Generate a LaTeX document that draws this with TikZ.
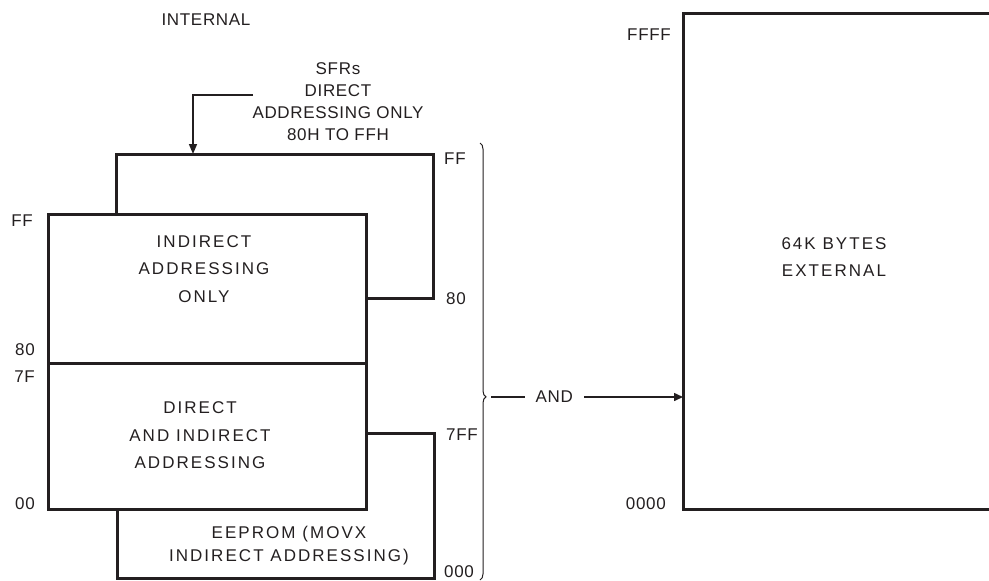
\documentclass[tikz,border=0pt]{standalone}
\usepackage{fontspec}
\setmainfont{Liberation Sans}[LetterSpace=4]
\newfontfamily\boxfont{Liberation Sans}[LetterSpace=12]
\usetikzlibrary{arrows.meta,decorations.pathreplacing}
\definecolor{ink}{HTML}{231F20}
\begin{document}
\begin{tikzpicture}[x=1pt,y=-1pt,
  every node/.style={font=\fontsize{17}{22}\selectfont, text=ink, inner sep=0pt},
  thick box/.style={draw=ink, line width=3pt, line join=miter},
  thin line/.style={draw=ink, line width=1.5pt},
  boxtext/.style={align=center, font=\boxfont\fontsize{17}{27.5}\selectfont},
  lbl/.style={}]
\useasboundingbox (0,0) rectangle (989,581);
% coordinates
\coordinate (mTL) at (48,214);
\coordinate (mTR) at (366,214);
\coordinate (mBL) at (48,509);
\coordinate (mBR) at (366,509);
\coordinate (dL) at (48,363);
\coordinate (dR) at (366,363);
\coordinate (sA) at (116,214);
\coordinate (sB) at (116,154);
\coordinate (sC) at (433,154);
\coordinate (sD) at (433,298);
\coordinate (sE) at (366,298);
\coordinate (eA) at (117,509);
\coordinate (eB) at (117,578);
\coordinate (eC) at (434,578);
\coordinate (eD) at (434,433);
\coordinate (eE) at (366,433);
\coordinate (xTR) at (995,13);
\coordinate (xTL) at (683,13);
\coordinate (xBL) at (683,509);
\coordinate (xBR) at (995,509);
\coordinate (xIn) at (683,397);
\coordinate (brT) at (480,143);
\coordinate (brB) at (480,580);
\coordinate (brTip) at (491,397);
\coordinate (sfrStart) at (253,95);
\coordinate (sfrCorner) at (193,95);
\coordinate (sfrEnd) at (193,154);
% boxes
\draw[thick box] (sA) -- (sB) -- (sC) -- (sD) -- (sE);
\draw[thick box] (eA) -- (eB) -- (eC) -- (eD) -- (eE);
\draw[thick box] (mTL) rectangle (mBR);
\draw[thick box] (dL) -- (dR);
\draw[thick box] (xTR) -- (xTL) -- (xBL) -- (xBR);
% brace
\draw[draw=ink, line width=1pt, decorate, decoration={brace, amplitude=6pt, aspect=0.581}] (brT) -- (brB);
% AND arrow
\draw[thin line, -{Triangle[length=9pt,width=8pt]}] (brTip) -- node[fill=white, inner xsep=11pt, inner ysep=3pt, pos=0.33] (and) {AND} (xIn);
% SFR arrow
\draw[thin line, -{Triangle[length=10pt,width=8pt]}] (sfrStart) -- (sfrCorner) -- (sfrEnd);
% texts
\node (internal) at (206,20) {INTERNAL};
\node[align=center] (sfr) at (338,102) {SFRs\\DIRECT\\ADDRESSING ONLY\\80H TO FFH};
\node[boxtext] (ind) at (204,269) {INDIRECT\\ADDRESSING\\ONLY};
\node[boxtext] (dir) at (200,435.5) {DIRECT\\AND INDIRECT\\ADDRESSING};
\node[boxtext, font=\boxfont\fontsize{17}{23}\selectfont] (eep) at (289,545.5) {EEPROM (MOVX\\INDIRECT ADDRESSING)};
\node[boxtext, font=\boxfont\fontsize{17}{27}\selectfont] (ext) at (834,257) {64K BYTES\\EXTERNAL};
% address labels
\node[anchor=east] (lFF) at (33,221) {FF};
\node[anchor=east] (l80) at (35,350) {80};
\node[anchor=east] (l7F) at (35,377) {7F};
\node[anchor=east] (l00) at (35,504) {00};
\node[anchor=west] (rFF) at (444,159) {FF};
\node[anchor=west] (r80) at (446,299) {80};
\node[anchor=west] (r7FF) at (446,435) {7FF};
\node[anchor=west] (r000) at (444,572) {000};
\node[anchor=east] (FFFF) at (671,35) {FFFF};
\node[anchor=east] (zero) at (666,504) {0000};
\end{tikzpicture}
\end{document}
